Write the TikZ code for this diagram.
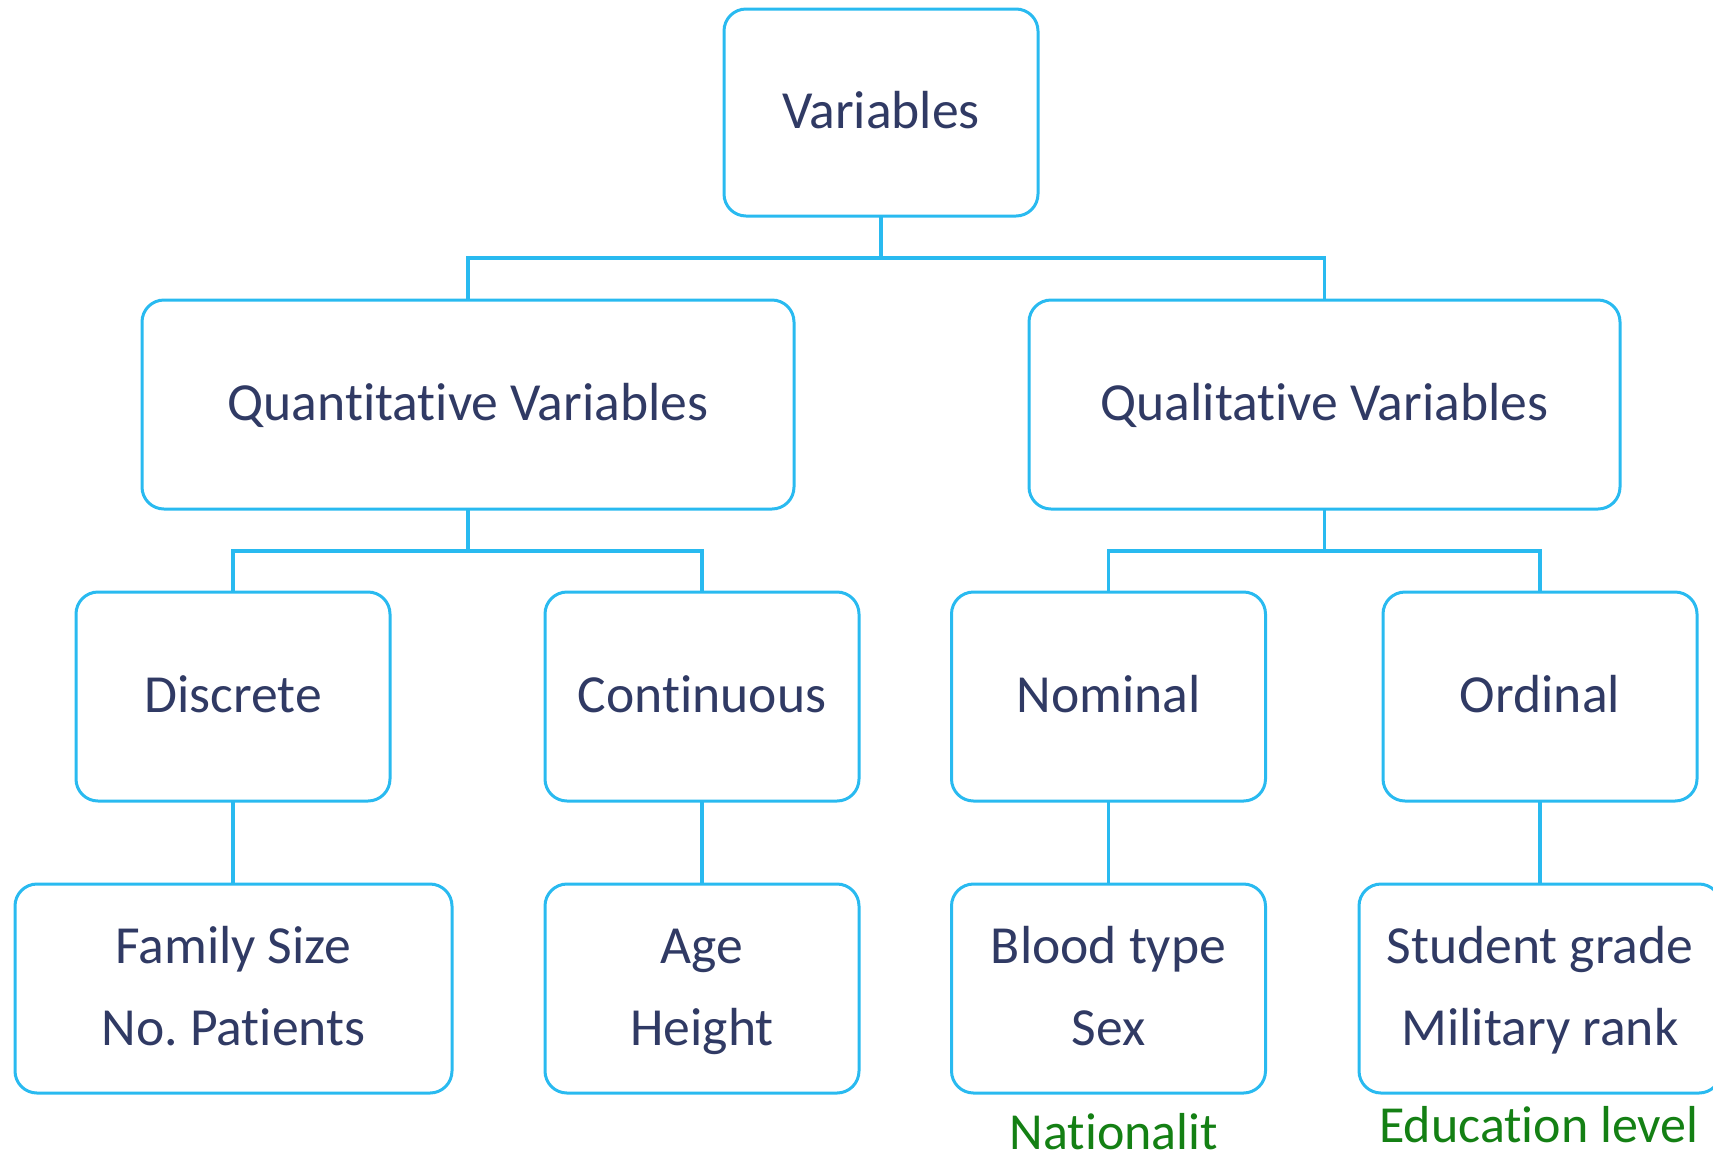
\documentclass[tikz,border=0pt]{standalone}
\usepackage{fontspec}
\setmainfont{Carlito}[Ligatures={NoCommon,NoContextual,NoRare}]
\frenchspacing
\definecolor{boxblue}{RGB}{41,186,240}
\definecolor{navy}{RGB}{48,58,100}
\definecolor{lblgreen}{RGB}{20,128,20}
\begin{document}
\begin{tikzpicture}[x=0.5pt,y=-0.5pt,
  box/.style={draw=boxblue,line width=1.5pt,rounded corners=11pt,fill=white,
    text=navy,align=center,inner sep=0pt,outer sep=0pt,
    font=\fontsize{26.8}{41}\selectfont\frenchspacing,minimum height=104.5pt},
  link/.style={draw=boxblue,line width=1.6pt},
  note/.style={text=lblgreen,font=\fontsize{26}{30}\selectfont,inner sep=0pt,anchor=base}]
\useasboundingbox (0,0) rectangle (1713,1158);
% level 1
\node[box,minimum width=157pt,minimum height=103.5pt] (var) at (881,112.5) {\strut Variables};
% level 2
\node[box,minimum width=326pt] (quant) at (468,404.5) {\strut Quantitative Variables};
\node[box,minimum width=295.5pt] (qual) at (1324.5,404.5) {\strut Qualitative Variables};
% level 3
\node[box,minimum width=157pt] (disc) at (233,696.5) {\strut Discrete};
\node[box,minimum width=157pt] (cont) at (702,696.5) {\strut Continuous};
\node[box,minimum width=157pt] (nom) at (1108.5,696.5) {\strut Nominal};
\node[box,minimum width=157pt] (ord) at (1540,696.5) {\strut Ordinal};
% level 4
\node[box,minimum width=218.5pt] (fam) at (233.5,988.5) {\strut Family Size\\\strut No.\ Patients};
\node[box,minimum width=157pt] (age) at (702,988.5) {\strut Age\\\strut Height};
\node[box,minimum width=157pt] (blood) at (1108.5,988.5) {\strut Blood type\\\strut Sex};
\node[box,minimum width=181pt] (stud) at (1540,988.5) {\strut Student grade\\\strut Military rank};
% notes
\node[note] (nat) at (1114,1149) {Nationalit};
\node[note] (edu) at (1539,1142) {Education level};
% connectors
\path (var.south) ++(0,42) coordinate (j1);
\path (quant.south) ++(0,42) coordinate (j2);
\path (qual.south) ++(0,42) coordinate (j3);
\draw[link] (var.south) -- (j1);
\draw[link] (quant.north) |- (j1) -| (qual.north);
\draw[link] (quant.south) -- (j2);
\draw[link] (disc.north) |- (j2) -| (cont.north);
\draw[link] (qual.south) -- (j3);
\draw[link] (nom.north) |- (j3) -| (ord.north);
\draw[link] (disc.south) -- (disc.south |- fam.north);
\draw[link] (cont.south) -- (age.north);
\draw[link] (nom.south) -- (blood.north);
\draw[link] (ord.south) -- (stud.north);
\end{tikzpicture}
\end{document}
